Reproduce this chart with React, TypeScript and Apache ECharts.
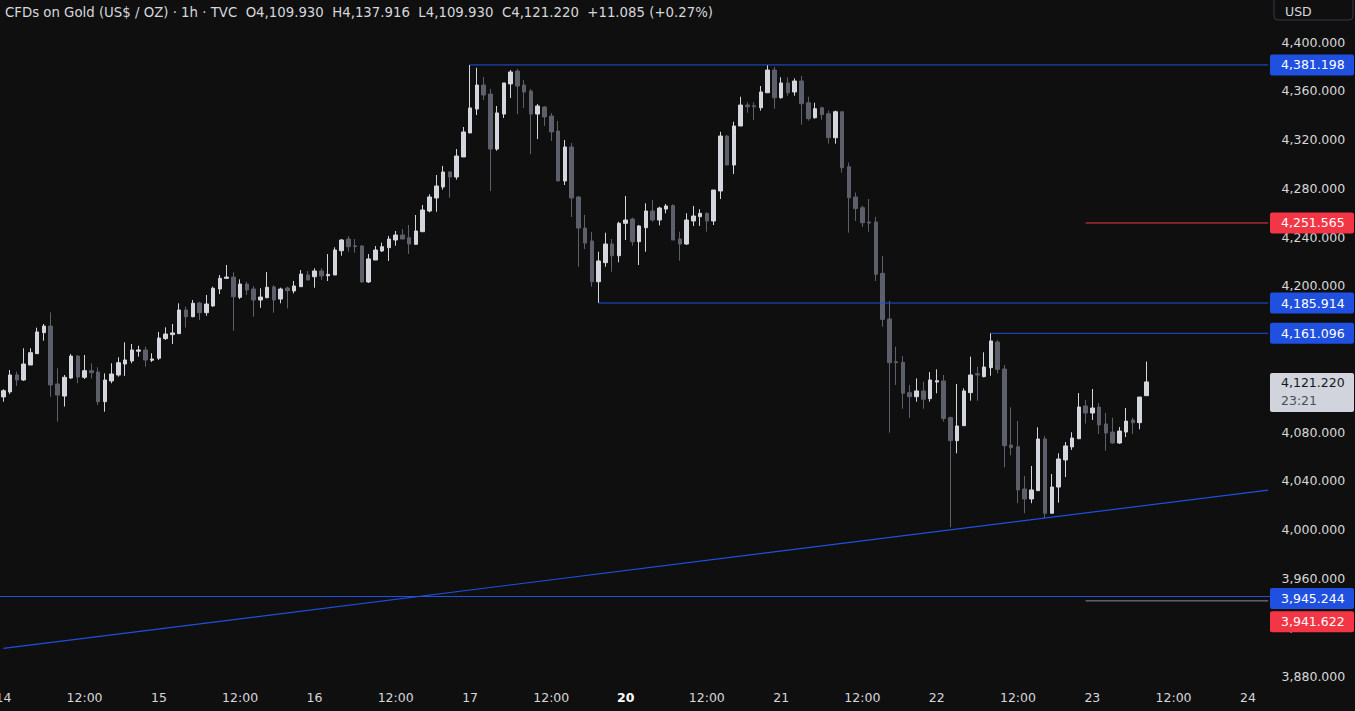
import React, { useEffect, useRef } from "react";
import * as echarts from "echarts";

// ---- tick labels ----
const days = ["14", "15", "16", "17", "20", "21", "22", "23", "24"];
const hours = [
  "00:00", "01:00", "02:00", "03:00", "04:00", "05:00", "06:00", "07:00",
  "08:00", "09:00", "10:00", "11:00", "12:00", "13:00", "14:00", "15:00",
  "16:00", "17:00", "18:00", "19:00", "20:00", "21:00", "23:00",
];
const yTicks = [3880, 3920, 3960, 4000, 4040, 4080, 4120, 4160, 4200, 4240, 4280, 4320, 4360, 4400];
const SLOTS = 188;
const Y_MIN = 3871.8;
const Y_MAX = 4434.45;

// ---- hourly OHLC ----
const opens = [
  4108.9, 4113.0, 4126.9, 4122.8, 4135.1, 4144.4, 4161.6, 4167.0, 4119.5, 4109.6,
  4124.4, 4142.4, 4125.0, 4130.4, 4129.3, 4105.0, 4122.0, 4126.9, 4135.9, 4138.4,
  4146.4, 4147.4, 4139.0, 4140.6, 4156.7, 4160.0, 4160.8, 4180.2, 4174.7, 4185.9,
  4178.0, 4183.5, 4197.4, 4206.2, 4207.2, 4190.6, 4201.5, 4197.4, 4188.4, 4190.3,
  4199.1, 4189.2, 4198.2, 4195.8, 4199.3, 4208.9, 4207.5, 4212.2, 4208.3, 4208.9,
  4228.8, 4238.4, 4232.9, 4232.7, 4203.2, 4221.2, 4228.6, 4231.3, 4237.6, 4241.7,
  4239.5, 4234.1, 4244.4, 4261.4, 4272.1, 4281.1, 4293.4, 4289.3, 4305.7, 4325.4,
  4345.0, 4364.7, 4357.3, 4312.2, 4340.9, 4365.6, 4376.2, 4364.7, 4359.8, 4340.9,
  4346.7, 4339.3, 4327.0, 4286.0, 4313.9, 4272.9, 4247.4, 4236.8, 4203.4, 4219.0,
  4234.3, 4224.7, 4251.3, 4254.8, 4236.2, 4247.7, 4261.4, 4254.0, 4263.0, 4265.8,
  4238.4, 4234.3, 4253.2, 4256.7, 4259.5, 4253.2, 4277.8, 4322.9, 4299.1, 4331.1,
  4348.3, 4347.7, 4346.1, 4358.4, 4377.0, 4354.3, 4366.4, 4359.0, 4368.0, 4350.2,
  4337.9, 4346.1, 4341.2, 4321.5, 4342.8, 4297.7, 4272.9, 4264.1, 4252.4, 4252.4,
  4210.3, 4172.8, 4137.8, 4137.3, 4112.4, 4109.1, 4113.8, 4107.5, 4121.1, 4122.0,
  4091.9, 4073.0, 4085.3, 4112.4, 4127.9, 4125.5, 4132.9, 4153.9, 4131.8, 4069.5,
  4068.1, 4033.4, 4025.2, 4032.0, 4074.4, 4013.5, 4035.0, 4057.2, 4067.9, 4074.6,
  4101.5, 4095.7, 4100.6, 4086.7, 4080.1, 4071.1, 4080.1, 4090.0, 4087.8, 4109.93,
];
const closes = [
  4114.0, 4126.9, 4122.8, 4135.9, 4145.2, 4162.2, 4167.0, 4118.7, 4110.4, 4125.0,
  4142.4, 4125.2, 4130.4, 4128.8, 4105.0, 4122.8, 4127.7, 4137.0, 4139.2, 4147.4,
  4147.4, 4139.2, 4140.0, 4157.2, 4160.5, 4161.4, 4180.2, 4174.7, 4185.7, 4178.0,
  4185.1, 4198.0, 4206.2, 4207.2, 4191.0, 4201.5, 4196.6, 4188.4, 4190.8, 4198.8,
  4188.4, 4197.4, 4196.0, 4199.9, 4209.7, 4204.8, 4212.2, 4208.1, 4209.4, 4229.4,
  4237.6, 4232.1, 4232.1, 4203.2, 4222.1, 4229.4, 4232.1, 4238.4, 4241.7, 4238.4,
  4234.3, 4245.0, 4262.2, 4272.9, 4281.9, 4293.4, 4289.3, 4306.5, 4326.2, 4345.9,
  4364.7, 4356.5, 4312.2, 4341.8, 4366.4, 4375.4, 4363.9, 4359.0, 4340.9, 4347.5,
  4338.5, 4326.2, 4286.0, 4313.9, 4272.1, 4247.4, 4235.1, 4203.4, 4220.4, 4234.3,
  4224.7, 4251.3, 4254.0, 4236.2, 4249.1, 4261.4, 4254.0, 4263.8, 4265.5, 4237.6,
  4234.3, 4254.0, 4257.3, 4259.5, 4253.2, 4278.6, 4322.9, 4299.1, 4331.1, 4348.3,
  4346.9, 4346.9, 4359.0, 4377.0, 4354.3, 4366.4, 4358.4, 4368.0, 4349.4, 4337.1,
  4345.3, 4340.4, 4321.5, 4342.8, 4296.9, 4272.3, 4263.3, 4251.8, 4251.5, 4209.5,
  4172.5, 4137.0, 4137.0, 4111.9, 4109.1, 4113.8, 4107.0, 4122.8, 4122.2, 4091.1,
  4073.0, 4085.1, 4113.8, 4126.9, 4126.9, 4133.4, 4154.8, 4131.5, 4068.9, 4067.3,
  4032.6, 4025.2, 4032.6, 4074.4, 4013.5, 4035.0, 4058.0, 4068.7, 4075.2, 4100.6,
  4095.7, 4099.8, 4085.9, 4079.3, 4071.1, 4080.9, 4089.1, 4087.8, 4108.8, 4121.22,
];
const lows = [
  4105.0, 4111.3, 4117.9, 4122.0, 4135.1, 4144.4, 4155.0, 4108.9, 4088.6, 4101.0,
  4123.8, 4120.1, 4123.6, 4124.1, 4102.3, 4096.8, 4120.1, 4125.5, 4126.1, 4136.5,
  4141.9, 4133.8, 4137.5, 4139.2, 4155.6, 4152.3, 4160.5, 4165.7, 4174.2, 4172.0,
  4175.5, 4182.9, 4193.3, 4205.6, 4163.2, 4189.2, 4192.5, 4174.7, 4182.0, 4189.8,
  4178.0, 4185.7, 4181.5, 4193.8, 4199.3, 4204.8, 4198.5, 4204.8, 4204.0, 4208.9,
  4224.7, 4228.0, 4227.2, 4202.4, 4202.4, 4221.2, 4227.8, 4220.4, 4232.9, 4238.4,
  4226.1, 4233.5, 4244.4, 4260.3, 4260.8, 4278.9, 4272.3, 4287.1, 4305.7, 4325.4,
  4340.1, 4352.4, 4277.8, 4310.8, 4337.7, 4354.1, 4340.9, 4345.9, 4308.1, 4320.4,
  4331.1, 4318.8, 4286.0, 4282.7, 4256.5, 4215.5, 4230.2, 4199.3, 4185.914, 4215.7,
  4211.6, 4219.3, 4237.6, 4232.9, 4217.1, 4228.0, 4252.6, 4249.6, 4259.5, 4237.6,
  4220.6, 4233.5, 4249.1, 4249.1, 4244.4, 4249.9, 4271.2, 4299.1, 4291.7, 4331.1,
  4342.0, 4336.0, 4343.7, 4358.4, 4345.3, 4353.5, 4355.9, 4355.9, 4332.2, 4335.5,
  4337.1, 4336.3, 4316.6, 4316.6, 4292.8, 4243.6, 4253.2, 4248.3, 4244.4, 4204.0,
  4166.5, 4079.6, 4118.7, 4099.2, 4091.8, 4105.0, 4099.2, 4105.0, 4111.9, 4088.6,
  4002.0, 4062.7, 4085.3, 4105.8, 4105.8, 4125.0, 4126.3, 4128.2, 4051.2, 4061.0,
  4021.7, 4013.5, 4021.7, 4032.0, 4009.4, 4013.5, 4022.2, 4043.2, 4065.4, 4074.6,
  4087.0, 4090.0, 4078.5, 4064.8, 4070.5, 4070.3, 4076.0, 4078.5, 4082.4, 4109.93,
];
const highs = [
  4115.2, 4131.0, 4129.6, 4148.8, 4148.8, 4165.7, 4168.7, 4178.3, 4132.4, 4126.9,
  4144.1, 4143.3, 4143.3, 4136.5, 4133.2, 4128.2, 4136.5, 4141.4, 4153.7, 4152.3,
  4150.9, 4150.1, 4144.7, 4162.2, 4166.0, 4168.7, 4185.7, 4182.9, 4188.4, 4187.0,
  4192.5, 4199.3, 4208.9, 4217.1, 4211.1, 4205.3, 4203.4, 4199.8, 4198.0, 4211.3,
  4200.6, 4198.5, 4199.3, 4204.0, 4213.0, 4212.2, 4214.4, 4214.4, 4226.1, 4231.6,
  4238.4, 4240.9, 4238.4, 4233.5, 4226.1, 4232.7, 4235.4, 4240.9, 4245.0, 4246.6,
  4249.9, 4258.1, 4266.3, 4275.1, 4290.9, 4298.3, 4294.2, 4312.2, 4330.3, 4381.198,
  4378.9, 4371.3, 4361.4, 4347.5, 4366.4, 4377.0, 4377.9, 4368.8, 4361.4, 4349.1,
  4347.5, 4341.8, 4335.2, 4319.6, 4317.2, 4273.7, 4258.1, 4244.2, 4228.0, 4243.6,
  4238.4, 4252.6, 4273.7, 4255.9, 4249.9, 4267.7, 4270.4, 4264.9, 4267.1, 4266.9,
  4244.4, 4259.5, 4265.5, 4262.8, 4260.3, 4278.6, 4326.4, 4323.7, 4334.6, 4355.1,
  4350.5, 4350.5, 4363.9, 4381.1, 4379.7, 4371.1, 4371.1, 4370.2, 4372.1, 4355.1,
  4350.2, 4346.9, 4343.7, 4343.7, 4342.8, 4301.0, 4276.6, 4265.8, 4271.2, 4256.5,
  4224.5, 4187.6, 4150.1, 4142.4, 4118.7, 4124.1, 4121.4, 4129.3, 4131.5, 4126.9,
  4092.7, 4119.5, 4116.0, 4141.9, 4133.7, 4145.5, 4161.096, 4155.6, 4135.1, 4100.4,
  4089.2, 4044.1, 4052.3, 4084.0, 4076.8, 4045.7, 4062.7, 4071.9, 4079.9, 4112.1,
  4106.4, 4115.4, 4103.9, 4095.7, 4091.9, 4084.2, 4099.8, 4091.9, 4108.8, 4137.916,
];

// ---- drawn levels: price and the bar index where each starts (-1 = full width) ----
const levelPrices = [4381.198, 4251.565, 4185.914, 4161.096, 3945.244, 3941.622];
const levelStarts = [69, 160, 88, 146, -1, 160];
const trendStart = [-0.5, 3902.6];
const trendEnd = [187, 4032.5];
const lastPrice = 4121.22;
const countdown = "23:21";
const titleText =
  "CFDs on Gold (US$ / OZ) · 1h · TVC  O4,109.930  H4,137.916  L4,109.930  C4,121.220  +11.085 (+0.27%)";

const BG = "#0f0f0f";
const TXT = "#d6d7db";
const UP = "#d4d6dd";
const DOWN = "#5d5f6a";
const BLUE = "#1f50df";
const RED = "#f23645";
const GREY = "#8a8d96";
const FONT = "DejaVu Sans";
const FS = 12.5;

const levelLine = [BLUE, RED, BLUE, BLUE, BLUE, GREY];
const levelTag = [BLUE, RED, BLUE, BLUE, BLUE, RED];
const tagShift = [0, 0, 0, 0, 2, 21];

const fmt = (v: number) =>
  v.toLocaleString("en-US", { minimumFractionDigits: 3, maximumFractionDigits: 3 });

export default function App() {
  const ref = useRef<HTMLDivElement>(null);
  useEffect(() => {
    document.body.style.margin = "0";
    document.body.style.background = BG;
    const chart = echarts.init(ref.current!, null, { renderer: "svg" });

    const categories: string[] = [];
    for (const d of days) for (const h of hours) categories.push(h === "00:00" ? d : h);
    categories.length = SLOTS;
    const candleData = opens.map((o, i) => [o, closes[i], lows[i], highs[i]]);

    const levelSeries = levelPrices
      .map((p, i) =>
        levelStarts[i] < 0
          ? null
          : {
              type: "line",
              silent: true,
              showSymbol: false,
              symbol: "none",
              z: 3,
              lineStyle: { color: levelLine[i], width: 1 },
              emphasis: { disabled: true },
              data: [
                [levelStarts[i], p],
                [SLOTS - 1, p],
              ],
            }
      )
      .filter(Boolean);
    const fullLines = levelPrices
      .filter((_, i) => levelStarts[i] < 0)
      .map((p) => ({ yAxis: p }));

    chart.setOption({
      animation: false,
      backgroundColor: BG,
      grid: { left: 0, right: 83.4, top: 0, bottom: 25, outerBoundsMode: "none", containLabel: false },
      xAxis: {
        type: "category",
        data: categories,
        boundaryGap: true,
        axisLine: { show: false },
        axisTick: { show: false },
        splitLine: { show: false },
        axisLabel: {
          interval: (i: number) => i % 23 === 0 || i % 23 === 12,
          color: TXT,
          fontFamily: FONT,
          fontSize: FS,
          margin: 5,
          formatter: (v: string) => (v === "20" ? `{b|${v}}` : v),
          rich: { b: { fontWeight: "bold", color: "#ffffff", fontFamily: FONT, fontSize: FS } },
        },
      },
      yAxis: {
        type: "value",
        position: "right",
        min: Y_MIN,
        max: Y_MAX,
        axisLine: { show: false },
        axisTick: { show: false },
        splitLine: { show: false },
        axisLabel: {
          customValues: yTicks,
          color: TXT,
          fontFamily: FONT,
          fontSize: FS,
          margin: 10,
          formatter: (v: number) => fmt(v),
        },
      },
      series: [
        {
          type: "candlestick",
          data: candleData,
          barWidth: 4,
          z: 2,
          itemStyle: {
            color: UP,
            color0: DOWN,
            borderColor: UP,
            borderColor0: DOWN,
            borderWidth: 1,
          },
          markLine: {
            silent: true,
            symbol: ["none", "none"],
            label: { show: false },
            emphasis: { disabled: true },
            lineStyle: { color: BLUE, width: 1.2, type: "solid" },
            data: [[{ coord: trendStart }, { coord: trendEnd }], ...fullLines],
          },
        },
        ...levelSeries,
      ],
    });

    const yPix = (p: number) => chart.convertToPixel({ yAxisIndex: 0 }, p) as number;
    const graphics: any[] = [];
    levelPrices.forEach((p, i) => {
      const y = yPix(p) + tagShift[i];
      graphics.push({
        type: "rect",
        z: 100,
        shape: { x: 1270, y: y - 10.5, width: 84, height: 21, r: 2 },
        style: { fill: levelTag[i] },
      });
      graphics.push({
        type: "text",
        z: 101,
        style: {
          text: fmt(p),
          x: 1281,
          y,
          fill: "#ffffff",
          fontFamily: FONT,
          fontSize: FS,
          verticalAlign: "middle",
          align: "left",
        },
      });
    });
    const ly = yPix(lastPrice);
    graphics.push({
      type: "rect",
      z: 100,
      shape: { x: 1270, y: ly - 9, width: 84, height: 39, r: 2 },
      style: { fill: "#d1d4dc" },
    });
    graphics.push({
      type: "text",
      z: 101,
      style: { text: fmt(lastPrice), x: 1281, y: ly + 1, fill: "#131722", fontFamily: FONT, fontSize: FS, verticalAlign: "middle" },
    });
    graphics.push({
      type: "text",
      z: 101,
      style: { text: countdown, x: 1281, y: ly + 19, fill: "#4a4e59", fontFamily: FONT, fontSize: FS, verticalAlign: "middle" },
    });
    graphics.push({
      type: "rect",
      z: 100,
      shape: { x: 1274, y: -6, width: 79, height: 26, r: 4 },
      style: { fill: BG, stroke: "#363a45", lineWidth: 1 },
    });
    graphics.push({
      type: "text",
      z: 101,
      style: { text: "USD", x: 1285, y: 11, fill: TXT, fontFamily: FONT, fontSize: FS, verticalAlign: "middle" },
    });
    graphics.push({
      type: "text",
      z: 101,
      style: { text: titleText, x: 5, y: 12, fill: TXT, fontFamily: FONT, fontSize: 13.3, verticalAlign: "middle" },
    });
    chart.setOption({ graphic: graphics });

    return () => chart.dispose();
  }, []);
  return <div ref={ref} style={{ position: "fixed", left: 0, top: 0, width: 1355, height: 711 }} />;
}
